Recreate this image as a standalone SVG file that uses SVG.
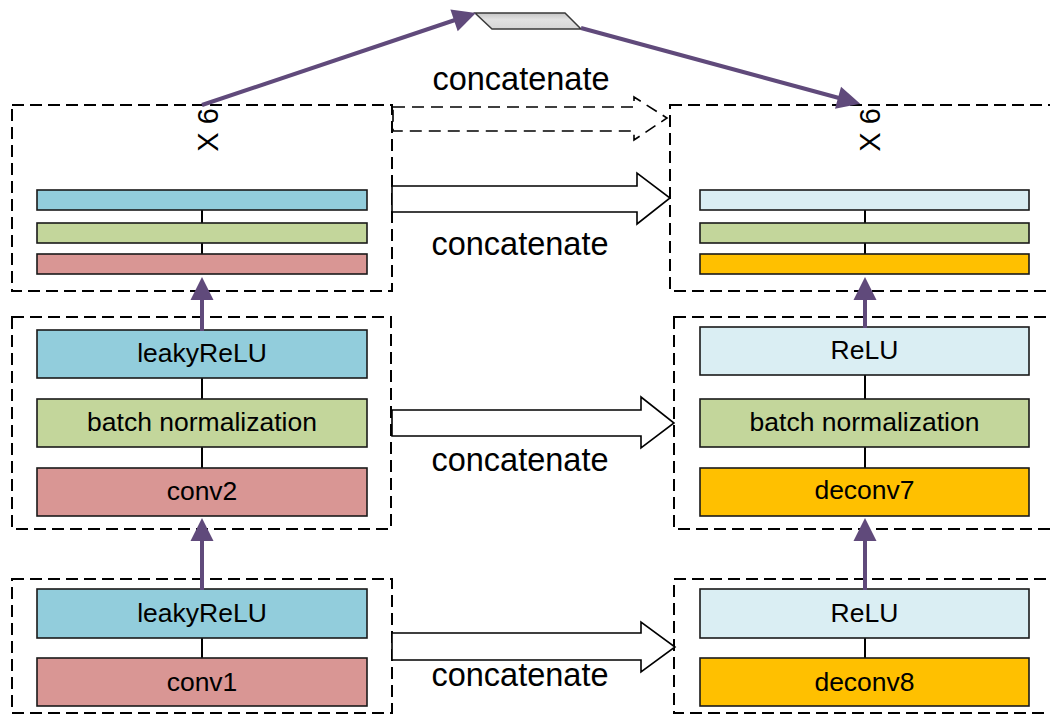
<svg xmlns="http://www.w3.org/2000/svg" width="1050" height="715" viewBox="0 0 1050 715">
  <style>
    .frame { fill: none; stroke: #000; stroke-width: 2; stroke-dasharray: 12 6; }
    .layer { stroke: #1a1a1a; stroke-width: 1.6; }
    .blue { fill: #92CDDC; }
    .lblue { fill: #DAEEF3; }
    .green { fill: #C3D69B; }
    .red { fill: #D99694; }
    .orange { fill: #FFC000; }
    .link { stroke: #000; stroke-width: 2; }
    .flow { stroke: #604A7B; stroke-width: 4; fill: none; marker-end: url(#head); }
    .skip { fill: #fff; stroke: #000; stroke-width: 1.6; }
    .skip-dash { fill: #fff; stroke: #000; stroke-width: 1.6; stroke-dasharray: 12 7; }
    .lbl { font-family: "Liberation Sans", Arial, sans-serif; font-size: 26.5px; fill: #000; text-anchor: middle; }
    .cat { font-family: "Liberation Sans", Arial, sans-serif; font-size: 32.5px; fill: #000; text-anchor: middle; }
    .rep { font-family: "Liberation Sans", Arial, sans-serif; font-size: 29px; fill: #000; text-anchor: middle; }
  </style>
  <defs>
    <marker id="head" markerUnits="userSpaceOnUse" markerWidth="24" markerHeight="24" viewBox="0 -12 23 24" refX="1" refY="0" orient="auto">
      <path d="M0,-11.5 L23,0 L0,11.5 Z" fill="#604A7B"/>
    </marker>
    <linearGradient id="plate" x1="0" y1="0" x2="0" y2="1">
      <stop offset="0" stop-color="#c4c4c4"/>
      <stop offset="0.4" stop-color="#e2e2e2"/>
      <stop offset="1" stop-color="#d6d6d6"/>
    </linearGradient>
  </defs>

  <!-- encoder: repeated block (x6) -->
  <g id="enc-repeat">
    <rect class="frame" x="12" y="105" width="380" height="186"/>
    <text class="rep" transform="translate(218,130) rotate(-90)">X 6</text>
    <line class="link" x1="202" y1="210" x2="202" y2="223"/>
    <line class="link" x1="202" y1="243" x2="202" y2="254"/>
    <rect class="layer blue" x="37" y="190" width="330" height="20"/>
    <rect class="layer green" x="37" y="223" width="330" height="20"/>
    <rect class="layer red" x="37" y="254" width="330" height="20"/>
  </g>

  <!-- encoder: conv2 block -->
  <g id="enc-conv2">
    <rect class="frame" x="12" y="317" width="379" height="212"/>
    <line class="link" x1="202" y1="378" x2="202" y2="399"/>
    <line class="link" x1="202" y1="447" x2="202" y2="468"/>
    <rect class="layer blue" x="37" y="330" width="330" height="48"/>
    <text class="lbl" x="202" y="362">leakyReLU</text>
    <rect class="layer green" x="37" y="399" width="330" height="48"/>
    <text class="lbl" x="202" y="431">batch normalization</text>
    <rect class="layer red" x="37" y="468" width="330" height="48"/>
    <text class="lbl" x="202" y="500">conv2</text>
  </g>

  <!-- encoder: conv1 block -->
  <g id="enc-conv1">
    <rect class="frame" x="12" y="579" width="380" height="134"/>
    <line class="link" x1="202" y1="638" x2="202" y2="658"/>
    <rect class="layer blue" x="37" y="589" width="330" height="49"/>
    <text class="lbl" x="202" y="622">leakyReLU</text>
    <rect class="layer red" x="37" y="658" width="330" height="48"/>
    <text class="lbl" x="202" y="691">conv1</text>
  </g>

  <!-- decoder: repeated block (x6) -->
  <g id="dec-repeat">
    <rect class="frame" x="670" y="105" width="392" height="186"/>
    <text class="rep" transform="translate(880,130) rotate(-90)">X 6</text>
    <line class="link" x1="865" y1="210" x2="865" y2="223"/>
    <line class="link" x1="865" y1="243" x2="865" y2="254"/>
    <rect class="layer lblue" x="700" y="190" width="329" height="20"/>
    <rect class="layer green" x="700" y="223" width="329" height="20"/>
    <rect class="layer orange" x="700" y="254" width="329" height="20"/>
  </g>

  <!-- decoder: deconv7 block -->
  <g id="dec-deconv7">
    <rect class="frame" x="674" y="317" width="388" height="212"/>
    <line class="link" x1="865" y1="375" x2="865" y2="399"/>
    <line class="link" x1="865" y1="447" x2="865" y2="468"/>
    <rect class="layer lblue" x="700" y="327" width="329" height="48"/>
    <text class="lbl" x="864.5" y="359">ReLU</text>
    <rect class="layer green" x="700" y="399" width="329" height="48"/>
    <text class="lbl" x="864.5" y="431">batch normalization</text>
    <rect class="layer orange" x="700" y="468" width="329" height="48"/>
    <text class="lbl" x="864.5" y="499">deconv7</text>
  </g>

  <!-- decoder: deconv8 block -->
  <g id="dec-deconv8">
    <rect class="frame" x="674" y="579" width="388" height="134"/>
    <line class="link" x1="865" y1="638" x2="865" y2="658"/>
    <rect class="layer lblue" x="700" y="589" width="329" height="49"/>
    <text class="lbl" x="864.5" y="622">ReLU</text>
    <rect class="layer orange" x="700" y="658" width="329" height="48"/>
    <text class="lbl" x="864.5" y="691">deconv8</text>
  </g>

  <!-- bottleneck plate -->
  <g id="bottleneck">
    <polygon points="475,13 565,13 581,29 492,29" fill="url(#plate)" stroke="#3a3a3a" stroke-width="1.5"/>
  </g>

  <!-- connectors -->
  <g id="connectors">
    <!-- skip connections -->
    <polygon class="skip-dash" points="393,107 634,107 634,97 667,118 634,140 634,131 393,131"/>
    <text class="cat" x="521" y="90">concatenate</text>

    <polygon class="skip" points="392,186 637,186 637,173 670,198 637,224 637,212 392,212"/>
    <text class="cat" x="520" y="255">concatenate</text>

    <polygon class="skip" points="392,410 641,410 641,397 674,423 641,448 641,436 392,436"/>
    <text class="cat" x="520" y="471">concatenate</text>

    <polygon class="skip" points="392,633 641,633 641,622 675,647 641,672 641,660 392,660"/>
    <text class="cat" x="520" y="686">concatenate</text>

    <!-- main data flow -->
    <line class="flow" x1="202" y1="590" x2="202" y2="540"/>
    <line class="flow" x1="202" y1="331" x2="202" y2="299"/>
    <line class="flow" x1="202" y1="105" x2="455" y2="20"/>
    <line class="flow" x1="581" y1="28" x2="839" y2="98"/>
    <line class="flow" x1="865" y1="590" x2="865" y2="540"/>
    <line class="flow" x1="865" y1="328" x2="865" y2="299"/>
  </g>
</svg>
